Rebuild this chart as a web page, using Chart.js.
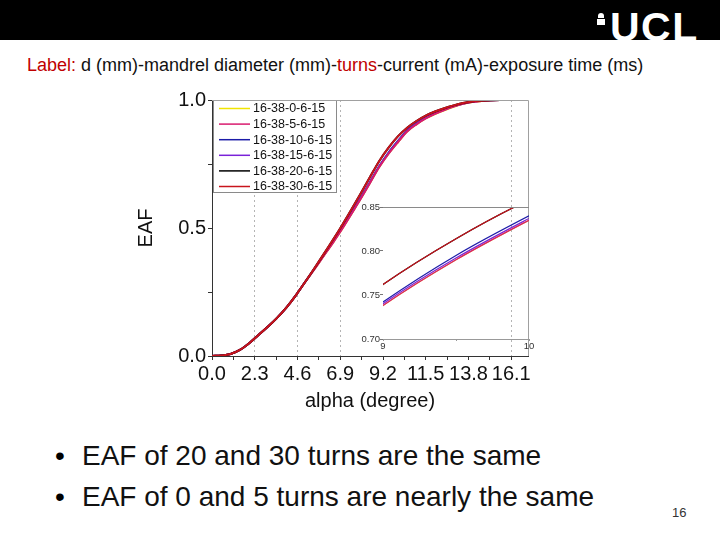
<!DOCTYPE html>
<html>
<head>
<meta charset="utf-8">
<script src="https://cdn.jsdelivr.net/npm/chart.js@4.4.0/dist/chart.umd.min.js"></script>
<style>
  body { margin: 0; width: 720px; height: 540px; background: #fff; position: relative; overflow: hidden;
         font-family: "Liberation Sans", Arial, sans-serif; }
  #bar { position: absolute; left: 0; top: 0; width: 720px; height: 40px; background: #000; }
  #ucl { position: absolute; left: 610px; top: 7px; color: #fff; font: bold 41px "Liberation Sans", Arial, sans-serif;
         line-height: 40px; letter-spacing: 1.5px; }
  #dome { position: absolute; left: 597px; top: 13px; width: 8px; height: 12px; }
  #dome .cap { position: absolute; left: 1px; top: 0; width: 6px; height: 5px; background: #fff; border-radius: 3px 3px 0 0; }
  #dome .base { position: absolute; left: 0; top: 6px; width: 8px; height: 6px; background: #fff; }
  #label { position: absolute; left: 27px; top: 56px; font-size: 18px; line-height: 18px; color: #111; white-space: nowrap; }
  .red { color: #c00000; }
  .bullet { position: absolute; font-size: 28px; line-height: 28px; color: #111; white-space: nowrap; }
  .dot { position: absolute; left: 55px; font-size: 28px; line-height: 28px; }
  #page { position: absolute; left: 672px; top: 506px; font-size: 13px; line-height: 13px; color: #333; }
  #main { position: absolute; left: 130px; top: 85px; }
  #inset { position: absolute; left: 350px; top: 198px; }
</style>
</head>
<body>
<div id="bar"></div>
<div id="dome"><div class="cap"></div><div class="base"></div></div>
<div id="ucl">UCL</div>
<div id="label"><span class="red">Label:</span> d (mm)-mandrel diameter (mm)-<span class="red">turns</span>-current (mA)-exposure time (ms)</div>
<canvas id="main" width="410" height="330"></canvas>
<canvas id="inset" width="185" height="160"></canvas>
<div class="dot" style="top:442px">•</div>
<div class="bullet" style="left:82px; top:442px">EAF of 20 and 30 turns are the same</div>
<div class="dot" style="top:483px">•</div>
<div class="bullet" style="left:82px; top:483px">EAF of 0 and 5 turns are nearly the same</div>
<div id="page">16</div>

<script>
// Data
const alpha = [0, 0.5, 1, 1.5, 2, 2.5, 3, 3.5, 4, 4.5, 5, 5.5, 6, 6.5, 7, 7.5, 8, 8.5, 9, 9.5, 10,
               10.5, 11, 11.5, 12, 12.5, 13, 13.5, 14, 14.5, 15, 15.5, 16, 17];
const eaf0  = [0, 0.002, 0.008, 0.024, 0.050, 0.082, 0.114, 0.149, 0.189, 0.236, 0.288, 0.338, 0.390, 0.442, 0.496, 0.555, 0.614, 0.676, 0.738, 0.790, 0.835,
               0.877, 0.905, 0.928, 0.945, 0.960, 0.973, 0.985, 0.992, 0.996, 0.999, 1, 1, 1];
const eaf5  = [0, 0.002, 0.008, 0.024, 0.050, 0.082, 0.114, 0.149, 0.189, 0.236, 0.288, 0.338, 0.390, 0.442, 0.496, 0.555, 0.614, 0.676, 0.738, 0.790, 0.835,
               0.877, 0.905, 0.928, 0.946, 0.961, 0.974, 0.985, 0.992, 0.996, 0.999, 1, 1, 1];
const eaf10 = [0, 0.002, 0.008, 0.024, 0.050, 0.082, 0.114, 0.149, 0.189, 0.236, 0.288, 0.340, 0.393, 0.446, 0.501, 0.559, 0.618, 0.680, 0.742, 0.795, 0.840,
               0.881, 0.909, 0.931, 0.949, 0.963, 0.976, 0.986, 0.993, 0.997, 0.999, 1, 1, 1];
const eaf15 = [0, 0.002, 0.008, 0.024, 0.050, 0.082, 0.114, 0.149, 0.189, 0.236, 0.288, 0.339, 0.392, 0.444, 0.499, 0.557, 0.616, 0.678, 0.740, 0.792, 0.837,
               0.879, 0.907, 0.929, 0.947, 0.962, 0.975, 0.985, 0.993, 0.997, 0.999, 1, 1, 1];
const eaf20 = [0, 0.002, 0.008, 0.024, 0.050, 0.082, 0.114, 0.149, 0.189, 0.236, 0.288, 0.342, 0.397, 0.453, 0.511, 0.572, 0.635, 0.699, 0.762, 0.814, 0.858,
               0.892, 0.918, 0.939, 0.955, 0.968, 0.979, 0.988, 0.994, 0.997, 0.999, 1, 1, 1];
const eaf30 = [0, 0.002, 0.008, 0.024, 0.050, 0.082, 0.114, 0.149, 0.189, 0.236, 0.288, 0.342, 0.397, 0.453, 0.511, 0.572, 0.635, 0.699, 0.762, 0.814, 0.858,
               0.892, 0.918, 0.939, 0.955, 0.968, 0.979, 0.988, 0.994, 0.997, 0.999, 1, 1, 1];

const seriesLabels = ['16-38-0-6-15', '16-38-5-6-15', '16-38-10-6-15', '16-38-15-6-15', '16-38-20-6-15', '16-38-30-6-15'];
const seriesColors = ['#f0e400', '#d81b6e', '#1c1ca8', '#7a22d8', '#000000', '#c8141c'];
const seriesOrder  = [5, 2, 4, 3, 1, 0];   // red on top, yellow hidden under pink
const seriesData   = [eaf0, eaf5, eaf10, eaf15, eaf20, eaf30];

const xMajor = [0, 2.3, 4.6, 6.9, 9.2, 11.5, 13.8, 16.1];
const xMajorLabels = ['0.0', '2.3', '4.6', '6.9', '9.2', '11.5', '13.8', '16.1'];
const xGrid = [2.3, 4.6, 6.9, 16.1];
const yTicks = [0, 0.25, 0.5, 0.75, 1];
const yTickLabels = ['0.0', '', '0.5', '', '1.0'];

const insetX = [9, 9.5, 10];
const insetXLabels = ['9', '', '10'];
const insetY = [0.70, 0.75, 0.80, 0.85];
const insetYLabels = ['0.70', '0.75', '0.80', '0.85'];

const FONT = '"Liberation Sans", Arial, sans-serif';
Chart.defaults.font.family = FONT;

function near(list, v) {
    return list.findIndex(m => Math.abs(m - v) < 1e-6);
}

function makeDatasets(width) {
    return seriesData.map((arr, i) => ({
        label: seriesLabels[i],
        data: alpha.map((x, j) => ({ x: x, y: arr[j] })),
        borderColor: seriesColors[i],
        borderWidth: width,
        pointRadius: 0,
        fill: false,
        cubicInterpolationMode: 'monotone',
        order: seriesOrder[i]
    }));
}

// legend box inside the plot, top-left corner
const boxLegend = {
    id: 'boxLegend',
    afterDatasetsDraw(chart) {
        const ctx = chart.ctx;
        const a = chart.chartArea;
        const x0 = a.left + 1, y0 = a.top, w = 124, h = 93;
        ctx.save();
        ctx.fillStyle = '#fff';
        ctx.fillRect(x0, y0, w, h);
        ctx.strokeStyle = '#8a8a8a';
        ctx.lineWidth = 1;
        ctx.strokeRect(x0 + 0.5, y0 + 0.5, w - 1, h - 1);
        ctx.font = '12.5px ' + FONT;
        ctx.textBaseline = 'middle';
        chart.data.datasets.forEach((ds, i) => {
            const yy = y0 + 8.5 + i * 15.6;
            ctx.strokeStyle = ds.borderColor;
            ctx.lineWidth = 1.5;
            ctx.beginPath();
            ctx.moveTo(x0 + 6, yy);
            ctx.lineTo(x0 + 37, yy);
            ctx.stroke();
            ctx.fillStyle = '#111';
            ctx.fillText(ds.label, x0 + 40, yy + 0.5);
        });
        ctx.restore();
    }
};

// grey frame on top and right
const frame = {
    id: 'frame',
    afterDraw(chart) {
        const ctx = chart.ctx;
        const a = chart.chartArea;
        ctx.save();
        ctx.strokeStyle = '#a0a0a0';
        ctx.lineWidth = 1;
        ctx.beginPath();
        ctx.moveTo(a.left, a.top + 0.5);
        ctx.lineTo(a.right + 0.5, a.top + 0.5);
        ctx.lineTo(a.right + 0.5, a.bottom);
        ctx.stroke();
        ctx.restore();
    }
};

const xTickValues = xMajor.flatMap((v, i) => i < xMajor.length - 1 ? [v, (v + xMajor[i + 1]) / 2] : [v]);

new Chart(document.getElementById('main'), {
    type: 'line',
    data: { datasets: makeDatasets(2) },
    options: {
        responsive: false,
        animation: false,
        devicePixelRatio: 1,
        layout: { padding: { top: 15, right: 12, left: 0, bottom: 0 } },
        plugins: { legend: { display: false }, tooltip: { enabled: false } },
        scales: {
            x: {
                type: 'linear', min: 0, max: 17,
                afterBuildTicks: s => { s.ticks = xTickValues.map(v => ({ value: v })); },
                afterFit: s => { s.height = 59; },
                ticks: {
                    autoSkip: false, maxRotation: 0, padding: 2, color: '#111',
                    font: { size: 20 },
                    callback: v => { const i = near(xMajor, v); return i >= 0 ? xMajorLabels[i] : ''; }
                },
                grid: {
                    color: c => (c.tick && near(xGrid, c.tick.value) >= 0) ? '#b4b4b4' : 'rgba(0,0,0,0)',
                    tickColor: '#333', tickLength: 4, lineWidth: 1
                },
                border: { color: '#333', width: 1, dash: [2, 3] },
                title: { display: true, text: 'alpha (degree)', color: '#111', font: { size: 20 }, padding: { top: 4, bottom: 2 } }
            },
            y: {
                min: 0, max: 1,
                afterBuildTicks: s => { s.ticks = yTicks.map(v => ({ value: v })); },
                afterFit: s => { s.width = 82; },
                ticks: {
                    padding: 2, color: '#111', font: { size: 20 },
                    callback: v => { const i = near(yTicks, v); return i >= 0 ? yTickLabels[i] : ''; }
                },
                grid: { color: 'rgba(0,0,0,0)', tickColor: '#333', tickLength: 4 },
                border: { color: '#333', width: 1 },
                title: { display: true, text: 'EAF', color: '#111', font: { size: 20 }, padding: { top: 4, bottom: 4 } }
            }
        }
    },
    plugins: [frame, boxLegend]
});

// zoomed inset 9..10
const insetTop = {
    id: 'insetTop',
    afterDraw(chart) {
        const ctx = chart.ctx;
        const a = chart.chartArea;
        ctx.save();
        ctx.strokeStyle = '#8a8a8a';
        ctx.lineWidth = 1;
        ctx.beginPath();
        ctx.moveTo(a.left, a.top + 0.5);
        ctx.lineTo(a.right, a.top + 0.5);
        ctx.stroke();
        ctx.restore();
    }
};

new Chart(document.getElementById('inset'), {
    type: 'line',
    data: { datasets: makeDatasets(1.2) },
    options: {
        responsive: false,
        animation: false,
        devicePixelRatio: 1,
        layout: { padding: { top: 9, right: 6, left: 0, bottom: 0 } },
        plugins: { legend: { display: false }, tooltip: { enabled: false } },
        scales: {
            x: {
                type: 'linear', min: 9, max: 10,
                afterBuildTicks: s => { s.ticks = insetX.map(v => ({ value: v })); },
                afterFit: s => { s.height = 19; },
                ticks: {
                    autoSkip: false, maxRotation: 0, padding: 0, color: '#333', font: { size: 9.5 },
                    callback: v => { const i = near(insetX, v); return i >= 0 ? insetXLabels[i] : ''; }
                },
                grid: { color: 'rgba(0,0,0,0)', tickColor: '#999', tickLength: 2 },
                border: { color: '#999', width: 1 }
            },
            y: {
                min: 0.70, max: 0.85,
                afterBuildTicks: s => { s.ticks = insetY.map(v => ({ value: v })); },
                afterFit: s => { s.width = 33; },
                ticks: {
                    padding: 0, color: '#333', font: { size: 9.5 },
                    callback: v => { const i = near(insetY, v); return i >= 0 ? insetYLabels[i] : ''; }
                },
                grid: { color: 'rgba(0,0,0,0)', tickColor: '#777', tickLength: 3 },
                border: { display: false }
            }
        }
    },
    plugins: [insetTop]
});
</script>
</body>
</html>
